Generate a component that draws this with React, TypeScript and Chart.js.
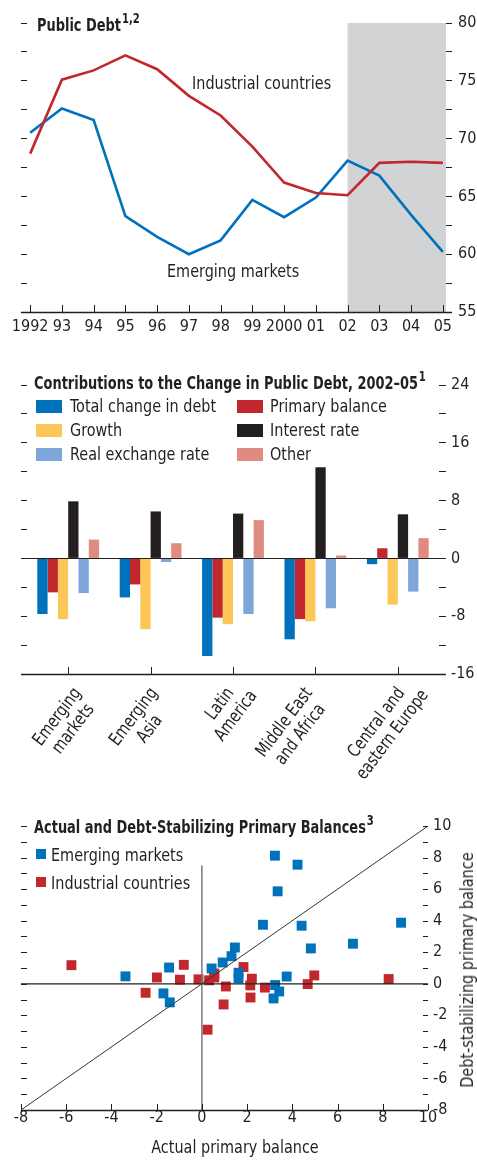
import React, { useEffect, useRef } from "react";
import { Chart, registerables } from "chart.js";

Chart.register(...registerables);

const FONT = "'DejaVu Sans Condensed', 'DejaVu Sans', sans-serif";
const INK = "#231f20";
const BLUE = "#0072bc";
const RED = "#c1272d";
const YELLOW = "#fdc659";
const BLACK = "#231f20";
const LIGHTBLUE = "#7ea6d9";
const PINK = "#e08b80";
const SHADE = "#d1d3d4";

// ---------- Panel 1: Public debt ----------
const years = ["1992", "93", "94", "95", "96", "97", "98", "99", "2000", "01", "02", "03", "04", "05"];
const industrialDebt = [68.7, 75.1, 75.9, 77.2, 76.0, 73.7, 72.0, 69.3, 66.2, 65.3, 65.1, 67.9, 68.0, 67.9];
const emergingDebt = [70.5, 72.6, 71.6, 63.3, 61.5, 60.0, 61.2, 64.7, 63.2, 64.9, 68.1, 66.8, 63.4, 60.2];
const projectionStart = "02";
const debtTicks = [55, 57.5, 60, 62.5, 65, 67.5, 70, 72.5, 75, 77.5, 80];

// ---------- Panel 2: Contributions ----------
const regions = [
  ["Emerging", "markets"],
  ["Emerging", "Asia"],
  ["Latin", "America"],
  ["Middle East", "and Africa"],
  ["Central and", "eastern Europe"],
];
const totalChange = [-7.7, -5.4, -13.5, -11.2, -0.8];
const primaryBalance = [-4.7, -3.6, -8.2, -8.4, 1.4];
const growth = [-8.4, -9.8, -9.1, -8.7, -6.4];
const interestRate = [7.9, 6.5, 6.2, 12.6, 6.1];
const realExchangeRate = [-4.8, -0.5, -7.7, -6.9, -4.6];
const otherFactors = [2.6, 2.1, 5.3, 0.4, 2.8];
const contribTicks = [-16, -12, -8, -4, 0, 4, 8, 12, 16, 20, 24];

// ---------- Panel 3: Actual vs debt-stabilizing ----------
const emergingActual = [3.23, 4.23, 3.35, 2.7, 4.41, 8.81, 6.68, 4.82, 1.46, 1.31, 0.92, 0.43, -1.45, -3.38, 1.62, 1.62, 3.75, -1.7, -1.42, 3.24, 3.42, 3.17];
const emergingStabilizing = [8.12, 7.55, 5.86, 3.74, 3.68, 3.87, 2.54, 2.24, 2.3, 1.75, 1.35, 0.97, 1.03, 0.47, 0.7, 0.35, 0.46, -0.61, -1.18, -0.08, -0.49, -0.93];
const industrialActual = [-5.77, -0.8, -1.99, -0.97, -0.15, -2.49, 1.84, 2.21, 1.06, 2.14, 2.79, 4.68, 4.97, 8.26, 0.96, 2.15, 0.25, 0.32, 0.55, 0.55];
const industrialStabilizing = [1.18, 1.2, 0.4, 0.26, 0.28, -0.57, 1.06, 0.32, -0.17, -0.1, -0.24, -0.02, 0.53, 0.3, -1.31, -0.87, -2.91, 0.22, 0.4, 0.65];
const scatterXTicks = [-8, -6, -4, -2, 0, 2, 4, 6, 8, 10];
const scatterYTicks = [-8, -7, -6, -5, -4, -3, -2, -1, 0, 1, 2, 3, 4, 5, 6, 7, 8, 9, 10];
const verticalAxisTop = 7.5;

// layout-only nudges for the rotated region labels (px, relative to tick)
const regionLabelShift = [3, -3, -9, -13, -3];

const setTicks = (values: number[]) => (s: any) => {
  s.ticks = values.map((v) => ({ value: v }));
};

const framePlugin = {
  id: "frame",
  beforeDatasetsDraw(chart: any, _args: any, opts: any) {
    const { ctx, chartArea: a } = chart;
    if (opts.shadeFrom != null) {
      const x0 = chart.scales.x.getPixelForValue(opts.shadeFrom);
      ctx.save();
      ctx.fillStyle = SHADE;
      ctx.fillRect(x0, a.top, a.right - x0, a.bottom - a.top);
      ctx.restore();
    }
  },
  afterDatasetsDraw(chart: any, _args: any, opts: any) {
    const { ctx, chartArea: a } = chart;
    ctx.save();
    ctx.strokeStyle = INK;
    ctx.lineWidth = 1;
    const hline = (y: number, ext: any, w = 1.2) => {
      ctx.beginPath();
      ctx.lineWidth = w;
      ctx.moveTo(a.left - ext.left, y);
      ctx.lineTo(a.right + ext.right, y);
      ctx.stroke();
      ctx.lineWidth = 1;
    };
    if (opts.zeroLine) {
      const y = chart.scales.y.getPixelForValue(0);
      hline(Math.round(y) + 0.5, opts.zeroLine);
    }
    if (opts.baseline) hline(Math.round(a.bottom) + 0.5, opts.baseline, 1.4);
    if (opts.bottomTicks) {
      const s = chart.scales[opts.bottomTicks.scale];
      s.ticks.forEach((t: any) => {
        const x = Math.round(s.getPixelForValue(t.value)) + 0.5;
        ctx.beginPath();
        ctx.moveTo(x, a.bottom);
        ctx.lineTo(x, a.bottom - opts.bottomTicks.len);
        ctx.stroke();
      });
    }
    const inner = (cfg: any, side: string) => {
      const s = chart.scales[cfg.scale];
      s.ticks.forEach((t: any) => {
        const y = Math.round(s.getPixelForValue(t.value)) + 0.5;
        ctx.beginPath();
        if (side === "left") {
          ctx.moveTo(a.left, y);
          ctx.lineTo(a.left + cfg.len, y);
        } else {
          ctx.moveTo(a.right, y);
          ctx.lineTo(a.right - cfg.len, y);
        }
        ctx.stroke();
      });
    };
    if (opts.leftInner) inner(opts.leftInner, "left");
    if (opts.rightInner) inner(opts.rightInner, "right");

    // rotated, centre-aligned multi-line category labels
    if (opts.rotLabels) {
      const r = opts.rotLabels;
      const s = chart.scales[r.scale];
      ctx.fillStyle = INK;
      ctx.font = `${r.size}px ${FONT}`;
      ctx.textBaseline = "alphabetic";
      ctx.textAlign = "center";
      const capH = r.size * 0.729;
      r.labels.forEach((lines: string[], i: number) => {
        const x = s.getPixelForValue(i) + (r.shifts[i] || 0);
        const w1 = ctx.measureText(lines[0]).width;
        ctx.save();
        ctx.translate(x, a.bottom + r.top);
        ctx.rotate((-r.angle * Math.PI) / 180);
        ctx.scale(r.squeeze, 1);
        lines.forEach((ln: string, j: number) => {
          ctx.fillText(ln, -w1 / 2, capH + j * r.lineGap);
        });
        ctx.restore();
      });
    }
    ctx.restore();
  },
};

Chart.register(framePlugin as any);
Chart.defaults.font.family = FONT;
Chart.defaults.color = INK;

const tickFont = { size: 16, family: FONT, lineHeight: 1 };

function debtConfig(): any {
  return {
    type: "line",
    data: {
      datasets: [
        {
          label: "Industrial countries",
          data: industrialDebt.map((y, i) => ({ x: i, y })),
          borderColor: RED,
          borderWidth: 2.6,
          pointRadius: 0,
          tension: 0,
        },
        {
          label: "Emerging markets",
          data: emergingDebt.map((y, i) => ({ x: i, y })),
          borderColor: BLUE,
          borderWidth: 2.6,
          pointRadius: 0,
          tension: 0,
        },
      ],
    },
    options: {
      animation: false,
      responsive: false,
      events: [],
      layout: { padding: { left: 21, top: 23, right: 0, bottom: 0 } },
      plugins: {
        legend: { display: false },
        tooltip: { enabled: false },
        frame: {
          shadeFrom: years.indexOf(projectionStart),
          baseline: { left: 6, right: 6 },
          bottomTicks: { scale: "x", len: 7 },
        },
      },
      scales: {
        x: {
          type: "linear",
          min: -0.1,
          max: 13.1,
          afterBuildTicks: setTicks(years.map((_, i) => i)),
          ticks: { callback: (v: number) => years[v], autoSkip: false, maxRotation: 0, padding: 7, font: tickFont, color: INK },
          grid: { display: false, drawTicks: false },
          border: { display: false },
          afterFit: (s: any) => { s.height = 33; },
        },
        y: {
          position: "right",
          min: 55,
          max: 80,
          afterBuildTicks: setTicks(debtTicks),
          ticks: { callback: (v: number) => (v % 5 === 0 ? String(v) : ""), padding: 6, font: tickFont, color: INK, autoSkip: false },
          grid: { drawOnChartArea: false, drawTicks: true, tickLength: 6, color: INK },
          border: { display: false },
          afterFit: (s: any) => { s.width = 31; },
        },
        yl: {
          position: "left",
          min: 55,
          max: 80,
          afterBuildTicks: setTicks(debtTicks),
          ticks: { display: false },
          grid: { drawOnChartArea: false, drawTicks: true, tickLength: 6, color: INK },
          border: { display: false },
          afterFit: (s: any) => { s.width = 6; },
        },
      },
    },
  };
}

function contribConfig(): any {
  const ds = (label: string, data: number[], color: string) => ({
    label,
    data,
    backgroundColor: color,
    borderWidth: 0,
    categoryPercentage: 0.75,
    barPercentage: 1.0,
  });
  return {
    type: "bar",
    data: {
      labels: regions,
      datasets: [
        ds("Total change in debt", totalChange, BLUE),
        ds("Primary balance", primaryBalance, RED),
        ds("Growth", growth, YELLOW),
        ds("Interest rate", interestRate, BLACK),
        ds("Real exchange rate", realExchangeRate, LIGHTBLUE),
        ds("Other", otherFactors, PINK),
      ],
    },
    options: {
      animation: false,
      responsive: false,
      events: [],
      layout: { padding: { left: 21, top: 40, right: 0, bottom: 0 } },
      plugins: {
        legend: { display: false },
        tooltip: { enabled: false },
        frame: {
          zeroLine: { left: 6, right: 7 },
          baseline: { left: 6, right: 7 },
          bottomTicks: { scale: "x", len: 7 },
          rotLabels: { scale: "x", labels: regions, shifts: regionLabelShift, angle: 53, size: 18, squeeze: 0.87, lineGap: 20, top: 11 },
        },
      },
      scales: {
        x: {
          type: "category",
          offset: true,
          grid: { display: false, drawTicks: false },
          border: { display: false },
          ticks: { display: false },
          afterFit: (s: any) => { s.height = 126; },
        },
        y: {
          position: "right",
          min: -16,
          max: 24,
          afterBuildTicks: setTicks(contribTicks),
          ticks: { callback: (v: number) => (v % 8 === 0 ? String(v) : ""), padding: 5, font: tickFont, color: INK, autoSkip: false },
          grid: { drawOnChartArea: false, drawTicks: true, tickLength: 7, color: INK },
          border: { display: false },
          afterFit: (s: any) => { s.width = 38; },
        },
        yl: {
          position: "left",
          min: -16,
          max: 24,
          afterBuildTicks: setTicks(contribTicks),
          ticks: { display: false },
          grid: { drawOnChartArea: false, drawTicks: true, tickLength: 6, color: INK },
          border: { display: false },
          afterFit: (s: any) => { s.width = 6; },
        },
      },
    },
  };
}

function scatterConfig(): any {
  const xMin = scatterXTicks[0];
  const xMax = scatterXTicks[scatterXTicks.length - 1];
  const line = (data: any[], color: string, width: number) => ({
    type: "line",
    data,
    borderColor: color,
    borderWidth: width,
    pointRadius: 0,
    tension: 0,
  });
  return {
    type: "scatter",
    data: {
      datasets: [
        line([{ x: xMin, y: xMin }, { x: xMax, y: xMax }], "#333333", 1),
        line([{ x: 0, y: xMin }, { x: 0, y: verticalAxisTop }], "#7a7a7a", 1.5),
        line([{ x: xMin, y: 0 }, { x: xMax, y: 0 }], INK, 1.2),
        {
          label: "Emerging markets",
          data: emergingActual.map((x, i) => ({ x, y: emergingStabilizing[i] })),
          pointStyle: "rect",
          pointRadius: 7,
          backgroundColor: BLUE,
          borderWidth: 0,
        },
        {
          label: "Industrial countries",
          data: industrialActual.map((x, i) => ({ x, y: industrialStabilizing[i] })),
          pointStyle: "rect",
          pointRadius: 7,
          backgroundColor: RED,
          borderWidth: 0,
        },
      ],
    },
    options: {
      animation: false,
      responsive: false,
      events: [],
      layout: { padding: { left: 21, top: 26, right: 0, bottom: 0 } },
      plugins: {
        legend: { display: false },
        tooltip: { enabled: false },
        frame: {
          baseline: { left: 0, right: 0 },
          bottomTicks: { scale: "x", len: 6 },
          leftInner: { scale: "y", len: 6 },
          rightInner: { scale: "y", len: 5 },
        },
      },
      scales: {
        x: {
          type: "linear",
          min: xMin,
          max: xMax,
          afterBuildTicks: setTicks(scatterXTicks),
          ticks: { padding: 0, font: tickFont, color: INK, autoSkip: false, maxRotation: 0 },
          grid: { display: false, drawTicks: false },
          border: { display: false },
          afterFit: (s: any) => { s.height = 50; },
        },
        y: {
          position: "right",
          min: xMin,
          max: xMax,
          afterBuildTicks: setTicks(scatterYTicks),
          ticks: { callback: (v: number) => (v % 2 === 0 ? String(v) : ""), padding: 5, font: tickFont, color: INK, autoSkip: false },
          grid: { display: false, drawTicks: false },
          border: { display: false },
          afterFit: (s: any) => { s.width = 49; },
        },
      },
    },
  };
}

const REG_SQUEEZE = 0.89;
const BOLD_SQUEEZE = 0.8;

function Label(props: {
  x: number;
  y: number;
  size?: number;
  bold?: boolean;
  children: any;
  anchor?: "left" | "center";
  rotate?: number;
}) {
  const k = props.bold ? BOLD_SQUEEZE : REG_SQUEEZE;
  const centered = props.anchor === "center";
  const rot = props.rotate ? ` rotate(${props.rotate}deg)` : "";
  return (
    <div
      style={{
        position: "absolute",
        whiteSpace: "nowrap",
        fontFamily: FONT,
        color: INK,
        lineHeight: 1,
        left: props.x,
        top: props.y,
        fontSize: props.size ?? 18,
        fontWeight: props.bold ? 700 : 400,
        transformOrigin: centered ? "50% 50%" : "0 50%",
        transform: `${centered ? "translate(-50%, -50%)" : "translateY(-50%)"}${rot} scaleX(${k})`,
      }}
    >
      {props.children}
    </div>
  );
}

function Swatch(props: { x: number; y: number; w: number; h: number; color: string }) {
  return (
    <div style={{ position: "absolute", left: props.x, top: props.y, width: props.w, height: props.h, background: props.color }} />
  );
}

const supStyle: React.CSSProperties = { fontSize: 14, verticalAlign: "top", position: "relative", top: -5, marginLeft: 1 };

export default function App() {
  const c1 = useRef<HTMLCanvasElement>(null);
  const c2 = useRef<HTMLCanvasElement>(null);
  const c3 = useRef<HTMLCanvasElement>(null);

  useEffect(() => {
    const charts = [
      new Chart(c1.current as HTMLCanvasElement, debtConfig()),
      new Chart(c2.current as HTMLCanvasElement, contribConfig()),
      new Chart(c3.current as HTMLCanvasElement, scatterConfig()),
    ];
    return () => charts.forEach((c) => c.destroy());
  }, []);

  const canvasStyle = (top: number, h: number): React.CSSProperties => ({ position: "absolute", left: 0, top, width: 477, height: h });

  return (
    <div style={{ position: "absolute", left: 0, top: 0, width: 477, height: 1160, background: "#fff", overflow: "hidden" }}>
      <canvas ref={c1} width={477} height={345} style={canvasStyle(0, 345)} />
      <canvas ref={c2} width={477} height={455} style={canvasStyle(345, 455)} />
      <canvas ref={c3} width={477} height={360} style={canvasStyle(800, 360)} />

      {/* Panel 1 text */}
      <Label x={37} y={25} bold>
        Public Debt<span style={supStyle}>1,2</span>
      </Label>
      <Label x={192} y={83}>Industrial countries</Label>
      <Label x={167} y={271}>Emerging markets</Label>

      {/* Panel 2 text */}
      <Label x={34} y={383} bold>
        Contributions to the Change in Public Debt, 2002–05<span style={supStyle}>1</span>
      </Label>
      <Swatch x={36} y={400} w={26} h={13} color={BLUE} />
      <Label x={70} y={406}>Total change in debt</Label>
      <Swatch x={36} y={424} w={26} h={13} color={YELLOW} />
      <Label x={70} y={430}>Growth</Label>
      <Swatch x={36} y={448} w={26} h={13} color={LIGHTBLUE} />
      <Label x={70} y={454}>Real exchange rate</Label>
      <Swatch x={237} y={400} w={26} h={13} color={RED} />
      <Label x={270} y={406}>Primary balance</Label>
      <Swatch x={237} y={424} w={26} h={13} color={BLACK} />
      <Label x={270} y={430}>Interest rate</Label>
      <Swatch x={237} y={448} w={26} h={13} color={PINK} />
      <Label x={270} y={454}>Other</Label>

      {/* Panel 3 text */}
      <Label x={34} y={827} bold>
        Actual and Debt-Stabilizing Primary Balances<span style={supStyle}>3</span>
      </Label>
      <Swatch x={36} y={849} w={10} h={10} color={BLUE} />
      <Label x={51} y={855}>Emerging markets</Label>
      <Swatch x={36} y={877} w={10} h={10} color={RED} />
      <Label x={51} y={883}>Industrial countries</Label>
      <Label x={235} y={1147} anchor="center">
        Actual primary balance
      </Label>
      <Label x={467} y={970} anchor="center" rotate={-90}>
        Debt-stabilizing primary balance
      </Label>
    </div>
  );
}
